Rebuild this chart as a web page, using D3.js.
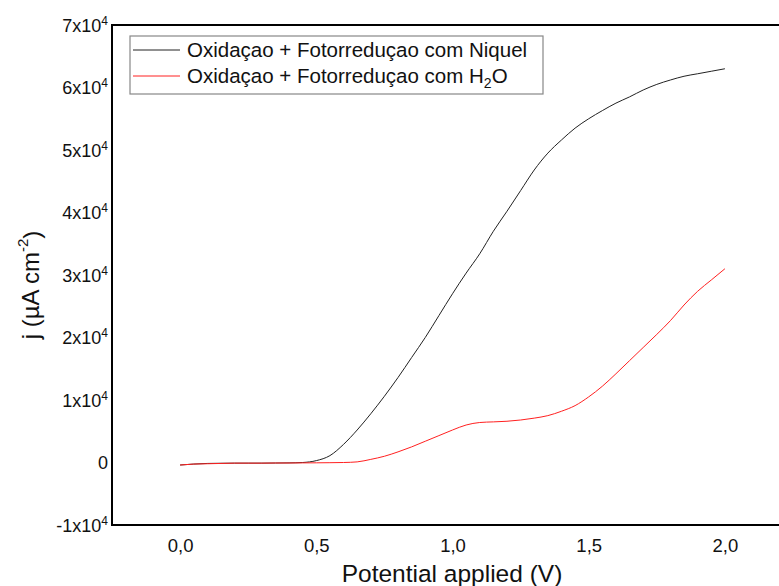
<!DOCTYPE html>
<html>
<head>
<meta charset="utf-8">
<script src="https://cdn.jsdelivr.net/npm/d3@7"></script>
<style>
  body { margin: 0; background: #fff; }
  svg { font-family: "Liberation Sans", Arial, sans-serif; }
</style>
</head>
<body>
<svg id="chart" width="779" height="586"></svg>
<script>
// potential (V) sampled every 0.05
const potential = [0.00,0.05,0.10,0.15,0.20,0.25,0.30,0.35,0.40,0.45,0.50,0.55,0.60,0.65,0.70,0.75,0.80,0.85,0.90,0.95,
  1.00,1.05,1.10,1.15,1.20,1.25,1.30,1.35,1.40,1.45,1.50,1.55,1.60,1.65,1.70,1.75,1.80,1.85,1.90,1.95,2.00];

// j in µA cm-2
const niquel = [-400,-250,-150,-120,-100,-100,-100,-80,-60,0,300,1100,2900,5200,7800,10600,13600,16800,20000,23500,
  27000,30300,33400,37000,40200,43500,46800,49500,51600,53500,55000,56300,57500,58500,59600,60500,61200,61800,62200,62600,63000];
const agua = [-400,-250,-200,-150,-100,-100,-100,-80,-80,-60,-50,-30,0,100,500,1000,1700,2500,3400,4300,
  5200,6000,6400,6500,6600,6800,7100,7500,8200,9100,10500,12200,14200,16300,18400,20500,22700,25200,27400,29200,31000];

const seriesNames = ["Oxidaçao + Fotorreduçao com Niquel", "Oxidaçao + Fotorreduçao com "];
const seriesColors = ["#222222", "#ff2020"];
const xTicks = [0, 0.5, 1.0, 1.5, 2.0];
const yTicks = [-10000, 0, 10000, 20000, 30000, 40000, 50000, 60000, 70000];

const svg = d3.select("#chart");
const mLeft = 112, mTop = 25, mBottom = 525, mRight = 793;

const x = d3.scaleLinear().domain([-0.25, 2.25]).range([mLeft, mRight]);
const y = d3.scaleLinear().domain([-10000, 70000]).range([mBottom, mTop]);

// --- axes (labels only, no tick marks) ---
const xAxis = svg.append("g")
  .attr("transform", `translate(0,${mBottom})`)
  .call(d3.axisBottom(x).tickValues(xTicks).tickSize(0).tickPadding(14)
    .tickFormat(d => d3.format(".1f")(d).replace(".", ",")));
xAxis.select(".domain").remove();
xAxis.selectAll("text").attr("font-size", 18.5).attr("fill", "#111")
  .style("font-family", "Liberation Sans, Arial, sans-serif");

const yAxis = svg.append("g")
  .attr("transform", `translate(${mLeft},0)`)
  .call(d3.axisLeft(y).tickValues(yTicks).tickSize(0).tickPadding(4).tickFormat(""));
yAxis.select(".domain").remove();
yAxis.selectAll(".tick").each(function (d) {
  const t = d3.select(this).append("text")
    .attr("x", -4).attr("dy", "0.35em")
    .attr("text-anchor", "end")
    .attr("font-size", 18).attr("fill", "#111")
    .style("font-family", "Liberation Sans, Arial, sans-serif");
  if (d === 0) { t.text("0"); return; }
  t.append("tspan").text(`${d / 10000}x10`);
  t.append("tspan").attr("font-size", 12).attr("dy", "-0.6em").text("4");
});

// frame (left, top, bottom)
svg.append("path")
  .attr("d", `M${mRight},${mTop}H${mLeft}V${mBottom}H${mRight}`)
  .attr("fill", "none").attr("stroke", "#000").attr("stroke-width", 2);

// --- curves ---
const line = d3.line()
  .x(d => x(d[0])).y(d => y(d[1]))
  .curve(d3.curveMonotoneX);

[niquel, agua].forEach((vals, i) => {
  svg.append("path")
    .datum(potential.map((p, k) => [p, vals[k]]))
    .attr("d", line)
    .attr("fill", "none")
    .attr("stroke", seriesColors[i])
    .attr("stroke-width", 1);
});

// --- axis titles ---
svg.append("text")
  .attr("x", 452).attr("y", 582)
  .attr("text-anchor", "middle").attr("font-size", 24.5).attr("fill", "#111")
  .text("Potential applied (V)");

const yt = svg.append("text")
  .attr("transform", "translate(39,285) rotate(-90)")
  .attr("text-anchor", "middle").attr("font-size", 24).attr("fill", "#111");
yt.append("tspan").text("j (µA cm");
yt.append("tspan").attr("font-size", 15).attr("dy", "-0.75em").text("-2");
yt.append("tspan").attr("dy", "0.5em").text(")");

// --- legend ---
const lg = svg.append("g");
lg.append("rect")
  .attr("x", 130).attr("y", 36).attr("width", 413).attr("height", 58)
  .attr("fill", "#fff").attr("stroke", "#888").attr("stroke-width", 1.2);
seriesNames.forEach((name, i) => {
  const cy = 50 + i * 26;
  lg.append("line")
    .attr("x1", 133).attr("x2", 180).attr("y1", cy).attr("y2", cy)
    .attr("stroke", seriesColors[i]).attr("stroke-width", 1);
  const t = lg.append("text")
    .attr("x", 187).attr("y", cy).attr("dy", "0.35em")
    .attr("font-size", 20.5).attr("fill", "#111").text(name);
  if (i === 1) {
    t.append("tspan").text("H");
    t.append("tspan").attr("font-size", 14).attr("dy", "0.35em").text("2");
    t.append("tspan").attr("dy", "-0.25em").text("O");
  }
});
</script>
</body>
</html>
